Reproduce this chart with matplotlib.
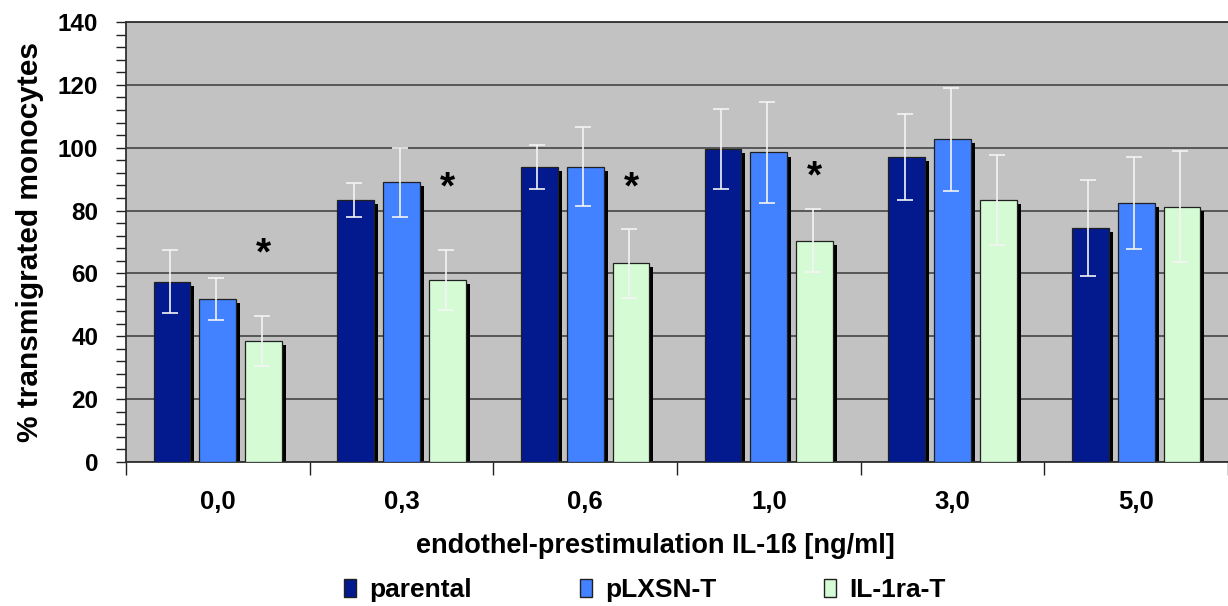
import matplotlib
matplotlib.use("Agg")
import matplotlib.pyplot as plt
import numpy as np
from matplotlib.patches import Patch
from matplotlib.ticker import MultipleLocator

plt.rcParams["font.family"] = ["Liberation Sans", "DejaVu Sans"]
plt.rcParams["font.weight"] = "bold"

# --- data ---
doses = ["0,0", "0,3", "0,6", "1,0", "3,0", "5,0"]
series = ["parental", "pLXSN-T", "IL-1ra-T"]
parental = [57.3, 83.4, 94.0, 99.5, 97.1, 74.5]
plxsn = [51.9, 89.0, 94.0, 98.5, 102.7, 82.5]
il1ra = [38.5, 57.9, 63.2, 70.4, 83.4, 81.2]
parental_err = [10.0, 5.5, 7.0, 12.7, 13.7, 15.3]
plxsn_err = [6.6, 11.0, 12.5, 16.0, 16.4, 14.7]
il1ra_err = [8.0, 9.6, 11.0, 10.0, 14.3, 17.7]
# significance markers (group index, label height)
star_groups = [0, 1, 2, 3]
star_heights = [66, 87, 87, 90.5]

colors = ["#031A8F", "#4281FF", "#D5FBD5"]

fig = plt.figure(figsize=(12.28, 6.06), dpi=100)
ax = fig.add_axes([126 / 1228, 1 - 462 / 606, 1 - 126 / 1228, 440 / 606])
ax.set_facecolor("#C2C2C2")

x = np.arange(len(doses))
width = 0.2
offsets = [-0.25, 0.0, 0.25]
values = [parental, plxsn, il1ra]
errors = [parental_err, plxsn_err, il1ra_err]

for off, vals, errs, col in zip(offsets, values, errors, colors):
    vals = np.array(vals)
    # drop shadow
    ax.bar(x + off + 0.022, vals - 1.3, width, color="black", zorder=2)
    ax.bar(x + off, vals, width, color=col, edgecolor="#202020",
           linewidth=0.9, zorder=3)
    ax.errorbar(x + off - 0.01, vals, yerr=errs, fmt="none", ecolor="#F4F4F4",
                elinewidth=1.2, capsize=6, capthick=1.2, zorder=4)

for g, h in zip(star_groups, star_heights):
    ax.text(g + 0.25, h, "*", ha="center", va="center", fontsize=28,
            fontweight="bold", zorder=5)

ax.set_xlim(-0.5, len(doses) - 0.5)
ax.set_ylim(0, 140)
ax.yaxis.set_major_locator(MultipleLocator(20))
ax.yaxis.set_minor_locator(MultipleLocator(4))
ax.grid(axis="y", which="major", color="#3A3A3A", linewidth=1.1, zorder=1)
ax.set_axisbelow(True)

ax.set_xticks(np.arange(len(doses) + 1) - 0.5)
ax.set_xticklabels([])
ax.set_xticks(x, minor=True)
ax.set_xticklabels(doses, minor=True, fontsize=18.5, fontweight="bold")
ax.tick_params(axis="x", which="major", length=9, width=1, color="#202020")
ax.tick_params(axis="x", which="minor", length=0, pad=20)
ax.tick_params(axis="y", which="both", length=7, width=1, color="#202020",
               labelsize=17.5, pad=13)
for lab in ax.get_yticklabels():
    lab.set_fontweight("bold")

ax.spines["right"].set_visible(False)
for side in ["left", "bottom", "top"]:
    ax.spines[side].set_color("#303030")
    ax.spines[side].set_linewidth(1.3)

ax.set_xlabel("endothel-prestimulation IL-1ß [ng/ml]", fontsize=19.5,
              fontweight="bold", labelpad=14, x=0.48)
ax.set_ylabel("% transmigrated monocytes", fontsize=21.5, fontweight="bold",
              labelpad=10)

handles = [Patch(facecolor=c, edgecolor="#202020", label=s)
           for c, s in zip(colors, series)]
fig.legend(handles=handles, loc="center", ncol=3, frameon=False,
           bbox_to_anchor=(645 / 1228, 1 - 590 / 606),
           prop={"size": 19, "weight": "bold"}, handlelength=0.45,
           handleheight=0.7, handletextpad=0.5, columnspacing=4.1)

fig.savefig("out.png", dpi=100)
